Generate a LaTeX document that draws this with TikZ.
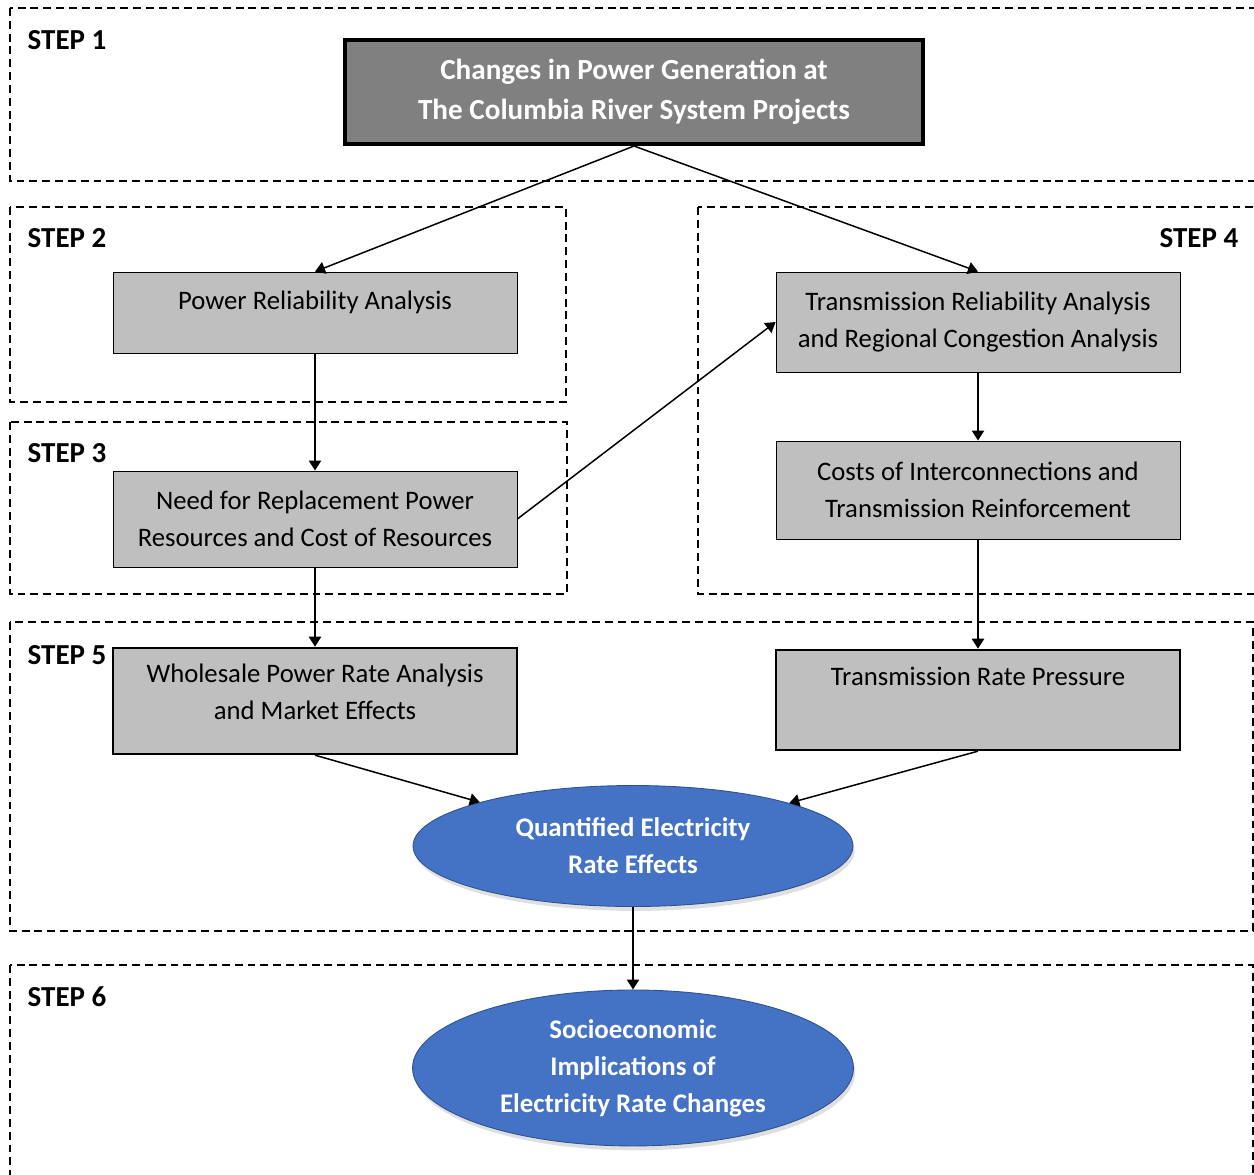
\documentclass[tikz,border=0pt]{standalone}
\usepackage{fontspec}
\setmainfont{Carlito}
\usepackage{tikz}
\usetikzlibrary{positioning,shapes.geometric,arrows.meta,shadows}

\definecolor{genfill}{RGB}{128,128,128}
\definecolor{boxfill}{RGB}{191,191,191}
\definecolor{ovalfill}{RGB}{68,114,196}
\definecolor{ovaldraw}{RGB}{47,82,143}

\tikzset{
  stepframe/.style={draw, line width=0.8pt, dash pattern=on 4.5pt off 2.8pt},
  steplabel/.style={inner sep=0pt, font=\fontsize{16.5}{19}\selectfont\bfseries},
  procbox/.style={draw, fill=boxfill, line width=0.5pt, align=center,
    minimum width=8.08cm, font=\fontsize{15.2}{21}\selectfont},
  oval/.style={ellipse, draw=ovaldraw, line width=0.5pt, fill=ovalfill, text=white,
    align=center, inner sep=0pt, font=\fontsize{15.3}{21}\selectfont\bfseries,
    drop shadow={shadow xshift=1pt, shadow yshift=-2.5pt, opacity=0.25}}
}

\begin{document}
\begin{tikzpicture}[x=0.02cm, y=-0.02cm, >={Triangle[length=5.7pt,width=7pt]}, line width=0.85pt, node distance=2cm, on grid]
\useasboundingbox (0,0) rectangle (1254,1174);

% step frames
\draw[stepframe] (10,8) rectangle (1262,181);
\draw[stepframe] (10,207) rectangle (566,402);
\draw[stepframe] (10,422) rectangle (567,594);
\draw[stepframe] (698,207) rectangle (1262,594);
\draw[stepframe] (10,622) rectangle (1253,931);
\draw[stepframe] (10,965) rectangle (1253,1185);

\node[steplabel, anchor=west] (s_1) at (27,40) {STEP 1};
\node[steplabel, anchor=west] (s_2) at (27,238) {STEP 2};
\node[steplabel, anchor=west] (s_3) at (27,453) {STEP 3};
\node[steplabel, anchor=east] (s_4) at (1239,238) {STEP 4};
\node[steplabel, anchor=west] (s_5) at (27,655) {STEP 5};
\node[steplabel, anchor=west] (s_6) at (27,997) {STEP 6};

% boxes
\node[draw, fill=genfill, line width=2.3pt, text=white, align=center,
  minimum width=11.56cm, minimum height=2.08cm,
  font=\fontsize{16.6}{22.7}\selectfont\bfseries] (gen) at (634,92)
  {Changes in Power Generation at\\The Columbia River System Projects};

\node[procbox, minimum height=1.62cm, text depth=13.8pt] (pra) at (315,312.5) {Power Reliability Analysis};
\node[procbox, minimum height=1.92cm] (need) [below=4.13cm of pra] {Need for Replacement Power\\Resources and Cost of Resources};
\node[procbox, minimum height=2.12cm, line width=1.4pt, text depth=10pt] (whole) [below=3.64cm of need] {Wholesale Power Rate Analysis\\and Market Effects};

\node[procbox, minimum height=2cm] (trel) at (978,322) {Transmission Reliability Analysis\\and Regional Congestion Analysis};
\node[procbox, minimum height=1.96cm] (cost) [below=3.36cm of trel] {Costs of Interconnections and\\Transmission Reinforcement};
\node[procbox, minimum height=2cm, line width=1.4pt, text depth=26.8pt] (trp) [below=4.2cm of cost] {Transmission Rate Pressure};

\node[oval, minimum width=8.8cm, minimum height=2.42cm] (qre) at (633,846) {Quantified Electricity\\Rate Effects};
\node[oval, minimum width=8.82cm, minimum height=3.12cm] (soc) [below=4.44cm of qre] {Socioeconomic\\Implications of\\Electricity Rate Changes};

\path[->]
(gen.south) edge (pra.north)
(gen.south) edge (trel.north)
(pra) edge (need)
(need.east) edge (trel.west)
(need) edge (whole)
(trel) edge (cost)
(cost) edge (trp)
(whole.south) edge (qre)
(trp.south) edge (qre)
(qre) edge (soc)
; %end path
\end{tikzpicture}
\end{document}
